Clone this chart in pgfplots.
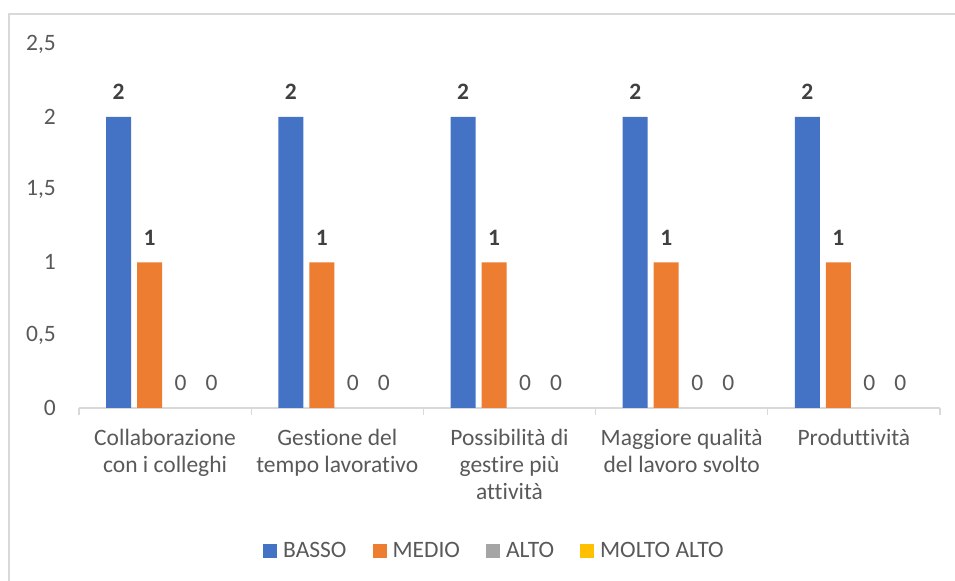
\documentclass[border=0pt]{standalone}
\usepackage{pgfplots}
\pgfplotsset{compat=1.18}
\usepackage{fontspec}
\setmainfont{Carlito}[Ligatures={NoCommon}]

\definecolor{basso}{HTML}{4472C4}
\definecolor{medio}{HTML}{ED7D31}
\definecolor{alto}{HTML}{A5A5A5}
\definecolor{moltoalto}{HTML}{FFC000}
\definecolor{textc}{HTML}{595959}
\definecolor{labelc}{HTML}{404040}
\definecolor{linec}{HTML}{D9D9D9}

\pgfplotsset{
  sqlegend/.style={legend image code/.code={\fill[#1] (0bp,-6bp) rectangle (14bp,8bp);}},
}

\begin{document}
\fontsize{23.5bp}{27bp}\selectfont
\begin{tikzpicture}
\path[use as bounding box] (0,0) rectangle (955bp,581bp);
% chart frame
\draw[linec, line width=1.5bp] (9bp,-5bp) -- (9bp,567bp) -- (965bp,567bp);
\begin{axis}[
  at={(79bp,173bp)}, anchor=south west,
  scale only axis, width=861bp, height=364bp,
  xmin=-0.5, xmax=4.5, ymin=0, ymax=2.5,
  clip=false,
  axis x line*=bottom, axis y line*=left,
  x axis line style={draw=linec, line width=1.5bp, -},
  y axis line style={draw=none},
  ybar=6bp, bar width=25bp,
  ytick={0,0.5,1,1.5,2,2.5},
  xtick={0,1,2,3,4},
  xticklabels={{Collaborazione\\con i colleghi},{Gestione del\\tempo lavorativo},{Possibilità di\\gestire più\\attività},{Maggiore qualità\\del lavoro svolto},{Produttività}},
  major tick length=7bp,
  tick align=outside,
  xtick style={draw=none},
  ytick style={draw=none},
  extra x ticks={-0.5,0.5,1.5,2.5,3.5,4.5},
  extra x tick labels={},
  extra x tick style={xtick style={draw=linec, line width=1.3bp}},
  xticklabel style={align=center, text=textc, inner sep=0pt, yshift=-14bp},
  yticklabel style={text=textc, inner sep=0pt, xshift=-16bp},
  /pgf/number format/.cd, use comma, assume math mode=true, /pgfplots/.cd,
  nodes near coords,
  every node near coord/.append style={anchor=south, inner sep=0pt, yshift=17bp},
  legend columns=-1,
  legend style={at={(axis description cs:0.4814,-0.3956)}, anchor=center, draw=none, fill=none,
    /tikz/every odd column/.append style={column sep=6bp},
    /tikz/every even column/.append style={column sep=26bp},
    nodes={inner sep=0pt, text=textc}},
]
\addplot[draw=none, fill=basso, sqlegend={basso},
  every node near coord/.append style={font=\bfseries, text=labelc}]
  coordinates {(0,2) (1,2) (2,2) (3,2) (4,2)};
\addplot[draw=none, fill=medio, sqlegend={medio},
  every node near coord/.append style={font=\bfseries, text=labelc}]
  coordinates {(0,1) (1,1) (2,1) (3,1) (4,1)};
% zero-valued series: bars have no height, only their labels show
\addplot[draw=none, fill=none, sqlegend={alto},
  every node near coord/.append style={text=textc}]
  coordinates {(0,0) (1,0) (2,0) (3,0) (4,0)};
\addplot[draw=none, fill=none, sqlegend={moltoalto},
  every node near coord/.append style={text=textc}]
  coordinates {(0,0) (1,0) (2,0) (3,0) (4,0)};
\legend{BASSO, MEDIO, ALTO, MOLTO ALTO}
\end{axis}
\end{tikzpicture}
\end{document}
